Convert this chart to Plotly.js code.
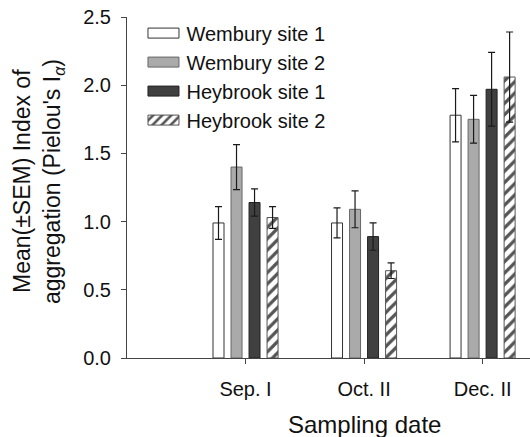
<!DOCTYPE html>
<html>
<head>
<meta charset="utf-8">
<script src="https://cdn.plot.ly/plotly-3.0.1.min.js"></script>
<style>html,body{margin:0;padding:0;background:#fff;overflow:hidden}</style>
</head>
<body>
<div id="chart" style="width:530px;height:437px"></div>
<script>
// ---- data ----
const categories = ["Sep. I", "Oct. II", "Dec. II"];
const seriesNames = ["Wembury site 1", "Wembury site 2", "Heybrook site 1", "Heybrook site 2"];
const wembury1 = [0.99, 0.99, 1.78];
const wembury1Sem = [0.12, 0.11, 0.195];
const wembury2 = [1.40, 1.09, 1.75];
const wembury2Sem = [0.165, 0.135, 0.175];
const heybrook1 = [1.14, 0.89, 1.97];
const heybrook1Sem = [0.10, 0.10, 0.27];
const heybrook2 = [1.03, 0.64, 2.06];
const heybrook2Sem = [0.08, 0.057, 0.33];
const yTicks = [0, 0.5, 1.0, 1.5, 2.0, 2.5];

const FONT = "Liberation Sans, Arial, sans-serif";
const errStyle = {type: "data", visible: true, color: "#1a1a1a", thickness: 1.2, width: 3.5};

function barTrace(name, vals, sem, marker) {
  return {
    type: "bar", name: name, x: categories, y: vals,
    error_y: Object.assign({array: sem}, errStyle),
    marker: marker
  };
}

const traces = [
  barTrace(seriesNames[0], wembury1, wembury1Sem, {color: "#ffffff", line: {color: "#333333", width: 1}}),
  barTrace(seriesNames[1], wembury2, wembury2Sem, {color: "#aaaaaa", line: {color: "#666666", width: 1}}),
  barTrace(seriesNames[2], heybrook1, heybrook1Sem, {color: "#404040", line: {color: "#222222", width: 1}}),
  barTrace(seriesNames[3], heybrook2, heybrook2Sem, {color: "#ffffff", line: {color: "#555555", width: 1},
    pattern: {shape: "/", fgcolor: "#555555", bgcolor: "#ffffff", size: 8, solidity: 0.4, fillmode: "replace"}})
];

const layout = {
  width: 530, height: 437,
  margin: {l: 127, r: 0, t: 17, b: 79},
  paper_bgcolor: "#ffffff", plot_bgcolor: "#ffffff",
  font: {family: FONT, color: "#111111", size: 20},
  barmode: "group", bargap: 0.392, bargroupgap: 0.39,
  showlegend: true,
  legend: {
    x: 0.026 + 9 / 403, y: 1.01, xanchor: "left", yanchor: "top",
    bgcolor: "rgba(0,0,0,0)", borderwidth: 0,
    font: {family: FONT, size: 20, color: "#111111"},
    traceorder: "normal"
  },
  xaxis: {
    type: "category", range: [-1, 2.4],
    showline: true, linecolor: "#444444", linewidth: 1,
    ticks: "outside", ticklen: 5, tickcolor: "#444444",
    showgrid: false, zeroline: false,
    tickfont: {family: FONT, size: 20, color: "#111111"},
    ticklabelstandoff: 8
  },
  yaxis: {
    range: [0, 2.5], tickvals: yTicks, tickformat: ".1f",
    showline: true, linecolor: "#444444", linewidth: 1,
    ticks: "outside", ticklen: 5, tickcolor: "#444444",
    showgrid: false, zeroline: false,
    tickfont: {family: FONT, size: 20, color: "#111111"},
    ticklabelstandoff: 6
  },
  annotations: [
    {text: "Mean(±SEM) Index of", xref: "paper", yref: "paper",
     x: (22 - 127) / 403, y: (358 - 181) / 341, xanchor: "center", yanchor: "middle",
     textangle: -90, showarrow: false, font: {family: FONT, size: 23, color: "#111111"}},
    {text: "aggregation (Pielou's I<sub><i>α</i></sub>)", xref: "paper", yref: "paper",
     x: (53 - 127) / 403, y: (358 - 182) / 341, xanchor: "center", yanchor: "middle",
     textangle: -90, showarrow: false, font: {family: FONT, size: 23, color: "#111111"}},
    {text: "Sampling date", xref: "paper", yref: "paper",
     x: (364 - 127) / 403, y: (358 - 424) / 341, xanchor: "center", yanchor: "middle",
     showarrow: false, font: {family: FONT, size: 24, color: "#111111"}}
  ]
};

Plotly.newPlot("chart", traces, layout, {displayModeBar: false, staticPlot: true}).then(function (gd) {
  // widen legend swatches to the flat rectangles of the original
  gd.querySelectorAll(".legend .legendpoints path").forEach(function (p) {
    p.setAttribute("d", "M12.5,5H-18.5V-5H12.5Z");
  });
});
</script>
</body>
</html>
